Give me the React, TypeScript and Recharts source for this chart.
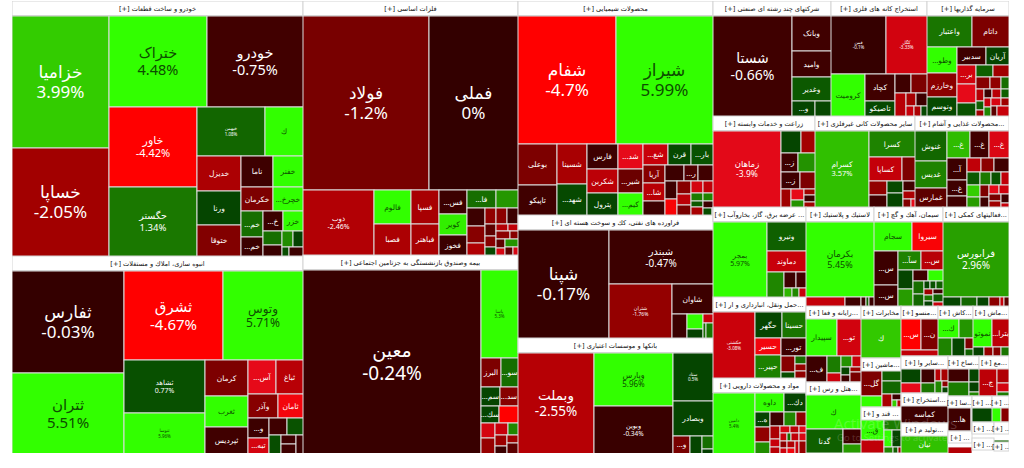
import React from "react";
import { Treemap } from "recharts";

// ---- values (name, % change, relative tile size) ----
const autoNames = ["خزامیا","خساپا","ختراک","خودرو","خاور","حگستر","خبهمن","ك","خدیزل","ورنا","ختوقا","ناما","خفنر","خکرمان","خچرخ...","خم...","خم...","خ...","خزر","","","","","",""];
const autoChanges = [3.99,-2.05,4.48,-0.75,-4.42,1.34,1.08,4.8,-2.3,0.5,-1.4,-0.6,5,-1.3,4.6,1.2,-0.4,-0.5,4.3,1.2,-0.3,2.2,0.4,0.7,-0.5];
const autoSizes = [114840,94250,79443,78351,63120,54704,29600,17020,13596,13200,12804,8928,8091,6912,6264,5070,3705,3596,3534,2320,1914,1537,1484,580,560];

const buildNames = ["ثفارس","ثتران","ثشرق","وتوس","ثشاهد","ثنوسا","کرمان","ثغرب","ثپردیس","آس...","ثباغ","وآذر","ثامان","و...","تبه...","","","","","",""];
const buildChanges = [-0.03,5.51,-4.67,5.71,0.77,5.96,-1.3,4.9,-0.7,-4,-2.6,-1.5,-4.2,-0.5,-3.4,-0.6,0.8,0.7,-0.6,-0.6,-0.5];
const buildSizes = [102231,80253,79060,64320,38394,29646,13674,11997,10449,8670,7956,6480,5256,3840,2944,2754,2295,2035,1276,1144,990];

const metalNames = ["فولاد","فملی","ذوب","فالوم","فصبا","فسپا","فباهنر","فس...","کویر","فخوز","فا...","","","","","","","","","","","","","","","","","","","",""];
const metalChanges = [-1.2,0,-2.46,4.4,-2.3,-2.2,-2.2,-0.5,4.2,-0.4,1.2,2.6,-0.5,-1.5,-2.4,-1.7,-1.6,-0.5,-1,-1.5,0.6,-2.5,-2.8,-1.6,-1.5,-1,-3.5,2.5,-1,-3.5,-2];
const metalSizes = [197694,138072,41976,11433,10545,8610,7626,5986,5166,5084,4615,3408,2982,2700,2000,1650,1520,1480,1200,1120,800,736,704,980,640,700,616,945,621,675,594];

const insureNames = ["معین","پاسا","البرز","سو...","سم...","سد...","سك...","","","","","","","","",""];
const insureChanges = [-0.24,5.3,-1.3,1.2,0.5,-1.5,0.5,-4.5,-3.4,-1.8,-3,2,-1.9,-0.5,-2,-1];
const insureSizes = [32568,3256,570,510,361,323,306,306,204,221,160,120,130,100,90,71];

const chemNames = ["شفام","شیراز","بوعلی","تاپیکو","شسینا","شهد...","فارس","شکربن","پترول","شد...","شیر...","کیم...","شغ...","قرن","بار...","آریا","شا...","","","ر...","","","","","","","","","","","","","","",""];
const chemChanges = [-4.7,5.99,-1.3,-0.7,-2.2,0.6,-0.6,-2.7,0.5,-4,-1.1,4.9,-3,0.6,0.8,-1.5,-2.6,-0.6,-0.5,-0.9,-0.7,-0.6,-4.3,-1.5,-2.7,-1.2,-3.4,-2.8,1.5,1.8,0.9,-2.2,-0.5,0.7,-1];
const chemSizes = [112896,111744,14274,11115,10710,8820,7084,6624,6256,5624,5396,5320,4774,4402,3844,3575,3575,2925,2726,2068,2021,1900,1850,1650,1376,1400,1290,1000,850,700,700,900,660,600,500];

const refineNames = ["شپنا","شبندر","شتران","شاوان","","","","","",""];
const refineChanges = [-0.17,-0.47,-1.76,-0.5,-0.4,5,0.4,-3,1.2,1.3];
const refineSizes = [87906,49910,30590,10920,3290,2100,1400,782,414,414];

const bankNames = ["وبملت","وپارس","وبوین","ستاد","وبصادر","و...","","",""];
const bankChanges = [-2.55,5.96,-0.34,0.5,0.5,-1.2,0.5,1.2,0.3];
const bankSizes = [69084,37835,33370,17400,12600,2756,1961,1333,310];

const holdingNames = ["شستا","وبانک","وامید","وغدیر","و...","",""];
const holdingChanges = [-0.66,-0.7,-0.6,0.9,0.5,0.55,-1];
const holdingSizes = [70735,12272,8968,8260,3162,2193,663];

const oreNames = ["فمن","کگل","کرومیت","کچاد","تاصیکو","","","","","","","",""];
const oreChanges = [-0.1,-3.33,4.9,-0.7,0.6,-0.6,-1.3,-2.6,-2.2,-0.6,-3,-2.3,0.6];
const oreSizes = [28536,21228,12827,7298,4005,2736,2736,2397,1173,1260,704,640,546];

const investNames = ["واعتبار","داتام","وطو...","وخارزم","ونوسم","سدبیر","آریان","بر...","","","","","","","","","","","","","","","","","","",""];
const investChanges = [1.3,-1.3,5,-1.6,0.6,-0.6,0.5,-3.3,-4,0.8,1,-2,-1.5,-1.7,1.2,-2.5,1,-2,-0.5,-2.6,1,-3,2,-3.5,-2,-1,-3];
const investSizes = [12090,10044,6688,6336,5280,4510,3740,3190,3074,2436,1750,1575,1480,1110,925,840,616,560,644,728,572,520,650,672,528,528,552];

const farmNames = ["زماهان","","","ز...","","ز...","","","","","","",""];
const farmChanges = [-3.9,0.5,-2.1,-0.6,2.4,-0.6,-1.3,-2,-4,2.4,-2,-0.5,-2];
const farmSizes = [45000,3886,2680,2800,2688,2750,2150,1664,1224,848,610,620,580];

const mineralNames = ["کسرام","کسرا","کساپا","","","","","","","","","",""];
const mineralChanges = [3.57,1.8,-2.9,-1.3,-1.7,-0.7,0.6,0.5,-0.7,-2.3,-1.4,-4,-3];
const mineralSizes = [35325,10125,6720,2730,2226,1806,1638,2014,1026,874,620,300,300];

const foodNames = ["غنوش","غدیس","غمارس","غ...","غ...","غ...","آ...","غ...","","","","","","","","","","","","","","","","","",""];
const foodChanges = [1.1,1.8,-1,3.5,-0.7,-3.6,-0.5,-0.6,-0.7,-2.8,-1.6,-0.6,0.9,4,2.8,1.4,0.8,-2.8,-1.3,-0.6,-4,-3.2,-1.2,-2,-0.6,-3];
const foodSizes = [8178,7332,5640,5313,4466,4389,3784,2728,1900,1700,1560,1700,1500,1300,1300,1200,1100,1000,900,900,800,750,700,650,600,500];

const powerNames = ["بمجر","ونیرو","دماوند","","","","","",""];
const powerChanges = [5.97,1,-3,1.9,-0.6,-0.8,3.4,2,-3];
const powerSizes = [34540,9520,6720,3650,1632,1344,600,520,474];

const rubberNames = ["بکرمان","","","","",""];
const rubberChanges = [5.45,-2.9,-0.6,-0.6,1,-0.5];
const rubberSizes = [43780,3159,1269,405,270,270];

const cementNames = ["سجام","سیروا","س...","س...","سآ...","س...","","","","","","","","","","","","","","",""];
const cementChanges = [5,-4.3,-0.5,-0.5,1.8,-2.6,0.5,2.8,-0.6,4.5,1.2,1.1,0.5,0.8,1,-2,1.4,0.4,-0.6,1,-3];
const cementSizes = [9520,7650,7000,4200,3740,3520,2385,2340,1376,1408,1188,1221,430,430,430,430,430,430,430,668,668];

const supportNames = ["فرابورس","","","","","",""];
const supportChanges = [2.96,0.5,1.1,0.5,-1.6,-3,-1];
const supportSizes = [42900,1485,1296,945,864,340,325];

const transportNames = ["حکشتی","حگهر","حسینا","حسیر","حپیر...","تور...","","","","",""];
const transportChanges = [-3.08,0.5,1.3,-4.2,1.7,-0.6,-1.5,0.7,1.2,-1.8,-1.7];
const transportSizes = [24552,6160,5236,3850,5440,3876,1900,900,800,700,642];

const pharmaNames = ["دامین","داوه","دك...","ه...","","","","","","","","","","","","","","","","","","","","",""];
const pharmaChanges = [5.4,4.4,0.5,0.5,-1.7,2.2,-0.6,2,-1.6,-2.3,-3,-2.6,-3.5,-2.7,-4,-3,-1.6,-3.2,1.2,-2.8,-3.6,-2.4,-4.2,-3,-1.8];
const pharmaSizes = [22204,4731,3819,2025,2025,1440,1680,1470,1260,1120,700,650,600,560,520,480,420,380,300,560,520,480,440,400,270];

const computerNames = ["سپیدار","تو...","ف...","","","","","","","",""];
const computerChanges = [4.4,-3.3,-0.5,1.5,-3.1,2.4,-3,0.5,-0.6,-2,-1.2];
const computerSizes = [8925,7350,4320,1880,1000,960,800,550,500,450,665];

const hotelNames = ["ك","گدنا","",""];
const hotelChanges = [4.8,1,-0.5,2.8];
const hotelSizes = [15300,7070,2160,1200];

const telecomNames = ["ك"];
const telecomChanges = [3.9];
const telecomSizes = [1];

const metalProdNames = ["س...","ن...",""];
const metalProdChanges = [-4.6,-1.3,-2.8];
const metalProdSizes = [4900,4200,1680];

const cashNames = ["ك...","","","","",""];
const cashChanges = [4.5,2.5,1.8,0.5,-1.3,1];
const cashSizes = [3021,2173,1920,1824,700,260];

const vehicleNames = ["نموتو","بترا...","","","",""];
const vehicleChanges = [4.8,-2.7,0.4,-1.8,-1.5,1.3];
const vehicleSizes = [3900,3450,750,625,550,500];

const machineNames = ["گل...","","","","","","",""];
const machineChanges = [-1.3,5,1,1.1,-2.2,-0.5,4,-2.5];
const machineSizes = [4380,1749,1590,2040,1040,425,276,299];

const sugarNames = ["ق...","","","","","","",""];
const sugarChanges = [4.9,-2.8,1.5,4.6,0.5,2,1,-2];
const sugarSizes = [3249,2109,1260,960,1050,400,200,200];

const otherNames = ["","","","","","","","",""];
const otherChanges = [0.5,-4,-0.5,1.3,-2.6,-2.2,2,-1.6,0.5];
const otherSizes = [2090,1485,1444,1026,525,595,630,255,270];

const buildCoNames = ["","","","",""];
const buildCoChanges = [-0.6,1.5,0.5,0.4,2];
const buildCoSizes = [2275,2275,1056,800,384];

const wholesaleNames = ["ج...","","",""];
const wholesaleChanges = [-2.7,-2.4,-3.4,1.5];
const wholesaleSizes = [3430,1155,800,355];

const sectorNames = [
  "خودرو و ساخت قطعات [+]","انبوه سازی، املاك و مستغلات [+]","فلزات اساسی [+]","بیمه وصندوق بازنشستگی به جزتامین اجتماعی [+]",
  "محصولات شیمیایی [+]","فراورده های نفتی، کك و سوخت هسته ای [+]","بانکها و موسسات اعتباری [+]",
  "شرکتهای چند رشته ای صنعتی [+]","استخراج کانه های فلزی [+]","سرمایه گذاریها [+]",
  "زراعت و خدمات وابسته [+]","سایر محصولات کانی غیرفلزی [+]","...محصولات غذایی و آشام [+]",
  "... عرضه برق، گاز، بخاروآب [+]","...حمل ونقل، انبارداری و ار [+]","مواد و محصولات دارویی [+]",
  "لاستیك و پلاستیك [+]","سیمان، آهك و گچ [+]","...فعالیتهای کمکی [+]",
  "...رایانه و فعا [+]","...هتل و رس [+]",
  "مخابرات [+]","...ماشین [+]","... قند و [+]",
  "...منسو [+]","...کاش [+]","...ماش [+]",
  "...سایر وا [+]","...استخراج [+]","...تولید م [+]","...ساخ [+]","...مع [+]",
  "...سا [+]","... [+]","... [+]","... [+]","... [+]","... [+]","... [+]","... [+]",
];
const sectorSizes = [
  74205,57327,54610,42570,41730,23985,22425,13600,11064,9336,9260,9080,8530,8380,7532,7071,6700,6800,6600,4158,3888,
  2067,1950,1794,1862,1764,1764,1750,1400,1400,1254,1178,828,529,520,442,360,320,306,255,
];
const sectorTiles = [
  [autoNames,autoChanges,autoSizes],[buildNames,buildChanges,buildSizes],[metalNames,metalChanges,metalSizes],[insureNames,insureChanges,insureSizes],
  [chemNames,chemChanges,chemSizes],[refineNames,refineChanges,refineSizes],[bankNames,bankChanges,bankSizes],
  [holdingNames,holdingChanges,holdingSizes],[oreNames,oreChanges,oreSizes],[investNames,investChanges,investSizes],
  [farmNames,farmChanges,farmSizes],[mineralNames,mineralChanges,mineralSizes],[foodNames,foodChanges,foodSizes],
  [powerNames,powerChanges,powerSizes],[transportNames,transportChanges,transportSizes],[pharmaNames,pharmaChanges,pharmaSizes],
  [rubberNames,rubberChanges,rubberSizes],[cementNames,cementChanges,cementSizes],[supportNames,supportChanges,supportSizes],
  [computerNames,computerChanges,computerSizes],[hotelNames,hotelChanges,hotelSizes],
  [telecomNames,telecomChanges,telecomSizes],[machineNames,machineChanges,machineSizes],[sugarNames,sugarChanges,sugarSizes],
  [metalProdNames,metalProdChanges,metalProdSizes],[cashNames,cashChanges,cashSizes],[vehicleNames,vehicleChanges,vehicleSizes],
  [otherNames,otherChanges,otherSizes],[["کماسه"],[-0.6],[1]],[["نیان"],[3.6],[1]],[buildCoNames,buildCoChanges,buildCoSizes],[wholesaleNames,wholesaleChanges,wholesaleSizes],
  [["ها...",""],[-0.6,-3],[20,1]],[[""],[-2.5],[1]],[[""],[0.5],[1]],[["",""],[5,-1.5],[1,1]],[[""],[1.1],[1]],[[""],[-0.5],[1]],[[""],[1.2],[1]],[[""],[-0.4],[1]],
];

// ---- styling (not data) ----
const LABEL_PX: Record<string, number> = {
  "خزامیا":17,"خساپا":17,"ختراک":14.5,"خودرو":14.5,"خاور":11,"حگستر":9.5,"خبهمن":4.5,
  "ثفارس":17,"ثتران":15,"ثشرق":15,"وتوس":12,"ثشاهد":7,"ثنوسا":4.5,
  "فولاد":17,"فملی":17,"ذوب":7,"معین":19,"پاسا":4.5,
  "شفام":17,"شیراز":17,"شپنا":17,"شبندر":10,"شتران":5,
  "وبملت":13.5,"وپارس":8,"وبوین":6.5,"ستاد":4.5,"شستا":14,"فمن":4.5,"کگل":4.5,
  "زماهان":8.5,"کسرام":7.5,"بمجر":7,"بکرمان":9,"فرابورس":10,"حکشتی":4.5,"دامین":4.5,
};
const FONT = '"Noto Sans", "DejaVu Sans", sans-serif';
const stops = (table: number[][], v: number) => {
  for (let i = 1; i < table.length; i++) {
    if (v <= table[i][0]) {
      const [a, b] = [table[i - 1], table[i]];
      return a.slice(1).map((c, k) => Math.round(c + ((b[k + 1] - c) * (v - a[0])) / (b[0] - a[0])));
    }
  }
  return table[table.length - 1].slice(1);
};
const NEG = [[0,51,0,0],[0.8,66,0,0],[1.2,120,0,0],[2,160,0,0],[3,200,0,10],[4,230,10,25],[4.4,255,0,0]];
const POS = [[0,0,50,0],[0.77,8,80,0],[1.34,26,120,0],[2.96,40,160,0],[3.57,48,192,0],[3.99,51,204,0],[4.3,50,255,0]];
const tileColor = (p: number) => {
  const [r, g, b] = p > 0 ? stops(POS, p) : stops(NEG, -p);
  return `rgb(${r},${g},${b})`;
};

const TileShape = (props: any) => {
  const { x, y, width, height, name, change } = props;
  if (width === undefined || !(width > 0) || !(height > 0) || change === undefined) return <g />;
  const px = LABEL_PX[name];
  const showPct = !!px;
  const size = px || 7.5;
  const color = change >= 4.2 ? "#0d4d00" : "#fff";
  const cx = x + width / 2;
  const cy = y + height / 2;
  return (
    <g>
      <rect x={x} y={y} width={width} height={height} fill={tileColor(change)} stroke="#dcdcdc" strokeWidth={1} />
      {name && name.trim() ? (
        <text x={cx} y={showPct ? cy - size * 0.25 : cy + size * 0.35} textAnchor="middle" direction="rtl" fontSize={size} fontFamily={FONT} fill={color}>
          {name}
        </text>
      ) : null}
      {showPct ? (
        <text x={cx} y={cy + size * 0.95} textAnchor="middle" fontSize={size} fontFamily={FONT} fill={color}>
          {change}%
        </text>
      ) : null}
    </g>
  );
};

const SectorShape = (props: any) => {
  const { x, y, width, height, name, tiles } = props;
  if (width === undefined || !(width > 0) || !(height > 0) || !tiles) return <g />;
  const area = width * height;
  const hdr = Math.min(area > 5000 ? 14.5 : area > 1100 ? 13 : 12, height - 2);
  const bodyH = Math.max(1, height - hdr);
  return (
    <g>
      <rect x={x} y={y} width={width} height={hdr} fill="#fff" stroke="#d4d4d4" strokeWidth={1} />
      <text x={x + width / 2} y={y + hdr / 2 + 2.5} textAnchor="middle" direction="rtl" fontSize={6.6} fontFamily='"DejaVu Sans", sans-serif' fill="#111">
        {name}
      </text>
      <foreignObject x={x} y={y + hdr} width={width} height={bodyH}>
        <Treemap
          width={width}
          height={bodyH}
          data={tiles}
          dataKey="value"
          nameKey="name"
          aspectRatio={1}
          isAnimationActive={false}
          isUpdateAnimationActive={false}
          content={<TileShape />}
        />
      </foreignObject>
    </g>
  );
};

const sectors = sectorNames.map((name, i) => {
  const [names, changes, sizes] = sectorTiles[i] as [string[], number[], number[]];
  return {
    name,
    value: sectorSizes[i],
    tiles: names.map((n, k) => ({ name: n, change: changes[k], value: sizes[k] })),
  };
});

export default function App() {
  return (
    <div style={{ position: "absolute", left: 12, top: 1, width: 997, height: 452 }}>
      <Treemap
        width={997}
        height={452}
        data={sectors}
        dataKey="value"
        nameKey="name"
        aspectRatio={1}
        isAnimationActive={false}
        isUpdateAnimationActive={false}
        content={<SectorShape />}
      />
      <div style={{ position: "absolute", left: 822, top: 412, fontFamily: '"Open Sans", sans-serif', fontSize: 15, color: "rgba(255,255,255,0.2)", pointerEvents: "none", whiteSpace: "nowrap" }}>
        Activate Windows
      </div>
      <div style={{ position: "absolute", left: 825, top: 430, fontFamily: '"Open Sans", sans-serif', fontSize: 9.5, color: "rgba(255,255,255,0.2)", pointerEvents: "none", whiteSpace: "nowrap" }}>
        Go to Settings to activate Windows.
      </div>
    </div>
  );
}
